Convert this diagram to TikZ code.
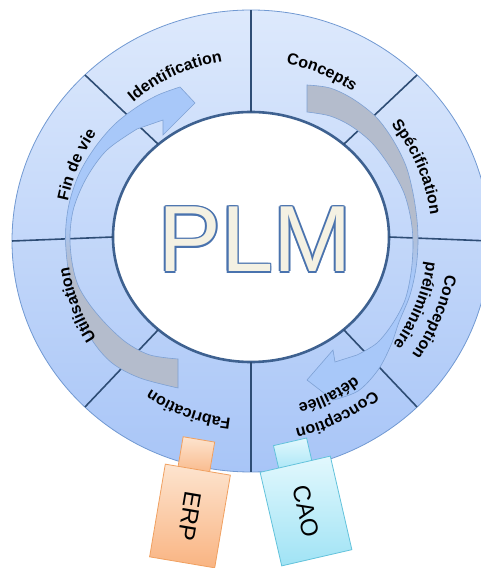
\documentclass[tikz,border=0pt]{standalone}
\usepackage{fontspec}
\setmainfont{Liberation Sans}
\usetikzlibrary{shapes.geometric,decorations.text,positioning}
\newcommand{\sectorfont}{\bfseries\fontsize{16}{16}\selectfont}
\newcommand{\plmfont}{\fontsize{94}{94}\selectfont}
\newcommand{\toolfont}{\fontsize{24}{24}\selectfont}

\definecolor{ringtop}{HTML}{DDE9FC}
\definecolor{ringbottom}{HTML}{A8C5F7}
\definecolor{ringedge}{HTML}{7199D2}
\definecolor{holeedge}{HTML}{3E6190}
\definecolor{dividerblue}{HTML}{2E4D75}
\definecolor{arrgray}{HTML}{B4BCCC}
\definecolor{arrblue}{HTML}{A8C8F9}
\definecolor{arrowedge}{HTML}{7EA1D4}
\definecolor{plmfill}{HTML}{F4F1E3}
\definecolor{plmedge}{HTML}{4A73AE}
\definecolor{erptop}{HTML}{FDE4CF}
\definecolor{erpbottom}{HTML}{F9B482}
\definecolor{erpedge}{HTML}{F0A060}
\definecolor{caotop}{HTML}{E2F8FD}
\definecolor{caobottom}{HTML}{A0E3F5}
\definecolor{caoedge}{HTML}{62C2DB}

\pgfdeclareverticalshading{graydown}{100bp}{color(0bp)=(arrgray); color(45bp)=(arrgray); color(53bp)=(arrblue); color(100bp)=(arrblue)}
\pgfdeclareverticalshading{grayup}{100bp}{color(0bp)=(arrblue); color(45bp)=(arrblue); color(53bp)=(arrgray); color(100bp)=(arrgray)}

\begin{document}
\begin{tikzpicture}[x=1pt, y=1pt,
  ringshape/.style={ellipse, inner sep=0pt, outer sep=0pt},
  divider/.style={draw=dividerblue, line width=1.6pt},
  cyclearrow/.style={draw=arrowedge, line width=0.6pt, shade},
  sectortext/.style={decorate, decoration={text along path, text align=center, text={|\sectorfont|#1}}},
  plmtext/.style={font=\plmfont, anchor=base, inner sep=0pt},
  erpbox/.style={rectangle, inner sep=0pt, top color=erptop, bottom color=erpbottom, draw=erpedge, line width=0.8pt},
  caobox/.style={rectangle, inner sep=0pt, top color=caotop, bottom color=caobottom, draw=caoedge, line width=0.8pt},
  tooltext/.style={font=\toolfont, rotate=-90, inner sep=0pt}]
\useasboundingbox (0,0) rectangle (481,568);

% ring and hub
\node[ringshape, minimum width=478pt, minimum height=462pt, top color=ringtop, bottom color=ringbottom, draw=ringedge, line width=0.8pt] (ring) at (251,327) {};
\node[ringshape, minimum width=276pt, minimum height=250pt, fill=white, draw=holeedge, line width=2.6pt] (hole) at (251,331) {};
\coordinate (hub) at (251,329);
\foreach \a in {0,45,...,315}
  \draw[divider] (hole.\a) -- (ring.\a);

% cycle arrows
\path[cyclearrow, shading=graydown]
  plot[smooth, tension=0.55] coordinates {(178,180) (140,190) (112,205) (92,228) (79,257) (70,288) (66,318) (66,343) (70,368) (80,396) (96,422) (115,444) (137,461) (158,473) (180,481)}
  -- (195,465) -- (163,433) -- (163,448)
  -- plot[smooth, tension=0.55] coordinates {(137,439) (107,418) (87,391) (74,361) (70,333) (72,306) (78,283) (90,263) (107,243) (127,225) (150,213) (178,209)}
  -- cycle;
\path[cyclearrow, shading=grayup]
  plot[smooth, tension=0.55] coordinates {(307,483) (330,480) (353,469) (376,451) (393,428) (406,402) (413,375) (417,348) (418,325) (416,300) (410,273) (399,246) (391,223) (378,198) (358,177) (333,168)}
  -- (307,188) -- (333,218) -- (335,206)
  -- plot[smooth, tension=0.55] coordinates {(357,213) (377,225) (393,245) (405,268) (411,295) (413,323) (411,348) (404,375) (390,401) (372,425) (351,442) (330,452) (307,456)}
  -- cycle;

% sector labels
\path[sectortext=Identification] ([shift={(155:180)}]hub) arc[start angle=155, end angle=75, radius=180];
\path[sectortext=Concepts] ([shift={(107:179)}]hub) arc[start angle=107, end angle=27, radius=179];
\path[sectortext=Spécification] ([shift={(63.5:181)}]hub) arc[start angle=63.5, end angle=-16.5, radius=181];
\path[sectortext=Conception] ([shift={(17:198)}]hub) arc[start angle=17, end angle=-63, radius=198];
\path[sectortext=préliminaire] ([shift={(18:177)}]hub) arc[start angle=18, end angle=-62, radius=177];
\path[sectortext=Conception] ([shift={(-24:195)}]hub) arc[start angle=-24, end angle=-104, radius=195];
\path[sectortext=détaillée] ([shift={(-23.5:172)}]hub) arc[start angle=-23.5, end angle=-103.5, radius=172];
\path[sectortext=Fabrication] ([shift={(-70:181)}]hub) arc[start angle=-70, end angle=-150, radius=181];
\path[sectortext=Utilisation] ([shift={(240.8:184)}]hub) arc[start angle=240.8, end angle=160.8, radius=184];
\path[sectortext=Fin de vie] ([shift={(197:187)}]hub) arc[start angle=197, end angle=117, radius=187];

% PLM title
\coordinate (plmbase) at (255,296);
\foreach \a in {0,45,...,315}
  \node[plmtext, text=plmedge] (plmrim\a) at ([shift={(\a:1.7)}]plmbase) {PLM};
\node[plmtext, text=plmfill] (plm) at (plmbase) {PLM};

% ERP stick
\begin{scope}[shift={(190,52)}, rotate=-9.6, transform shape]
  \node[erpbox, minimum width=32pt, minimum height=37pt] (erpcap) at (-4,58.5) {};
  \node[erpbox, minimum width=66pt, minimum height=94pt] (erp) at (0,0) {};
  \node[tooltext] (erplabel) at (erp.center) {ERP};
\end{scope}

% CAO stick
\begin{scope}[shift={(306,57)}, rotate=13, transform shape]
  \node[caobox, minimum width=34pt, minimum height=31pt] (caocap) at (0,55.5) {};
  \node[caobox, minimum width=72pt, minimum height=96pt] (cao) at (0,0) {};
  \node[tooltext] (caolabel) at (cao.center) {CAO};
\end{scope}
\end{tikzpicture}
\end{document}
